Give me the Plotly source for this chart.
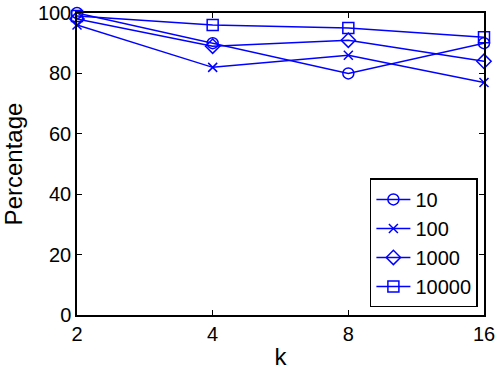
import math
import plotly.graph_objects as go

k = [2, 4, 8, 16]
names = ["10", "100", "1000", "10000"]
v10 = [100, 90, 80, 90]
v100 = [96, 82, 86, 77]
v1000 = [98, 89, 91, 84]
v10000 = [99, 96, 95, 92]
symbols = ["circle-open", "x-thin-open", "diamond-open", "square-open"]

fig = go.Figure()
for name, vals, sym in zip(names, [v10, v100, v1000, v10000], symbols):
    fig.add_trace(go.Scatter(
        x=k, y=vals, name=name, mode="lines+markers", cliponaxis=False,
        line=dict(color="#0000ff", width=1.5),
        marker=dict(symbol=sym, size=11 if sym != "x-thin-open" else 9,
                    color="#0000ff", line=dict(color="#0000ff", width=1.5)),
    ))

font = dict(family="Liberation Sans, Arial, sans-serif", size=20, color="black")
fig.update_layout(
    width=498, height=371,
    margin=dict(l=77, r=14, t=13, b=56),
    paper_bgcolor="white", plot_bgcolor="white",
    font=font,
    showlegend=True,
    legend=dict(x=0.985, y=0.025, xanchor="right", yanchor="bottom",
                bordercolor="black", borderwidth=1.5, bgcolor="white",
                font=dict(size=20), tracegroupgap=0, itemwidth=34),
)
fig.update_xaxes(
    type="log", range=[math.log10(min(k)) - 1e-6, math.log10(max(k)) + 1e-6],
    tickvals=k, ticktext=[str(v) for v in k],
    ticks="inside", ticklen=5, tickcolor="black", showline=True, linecolor="black",
    linewidth=1.5, mirror="ticks", showgrid=False, zeroline=False, automargin=False,
    title=dict(text="k", standoff=4),
)
fig.update_yaxes(
    range=[0, 100.0001], tickvals=[0, 20, 40, 60, 80, 100],
    ticks="inside", ticklen=5, tickcolor="black", showline=True, linecolor="black",
    linewidth=1.5, mirror="ticks", showgrid=False, zeroline=False, automargin=False,
    title=dict(text="Percentage", standoff=8),
)
fig.write_html("out.html", config={"displayModeBar": False},
               post_script="document.body.style.margin='0';document.body.style.overflow='hidden';")
